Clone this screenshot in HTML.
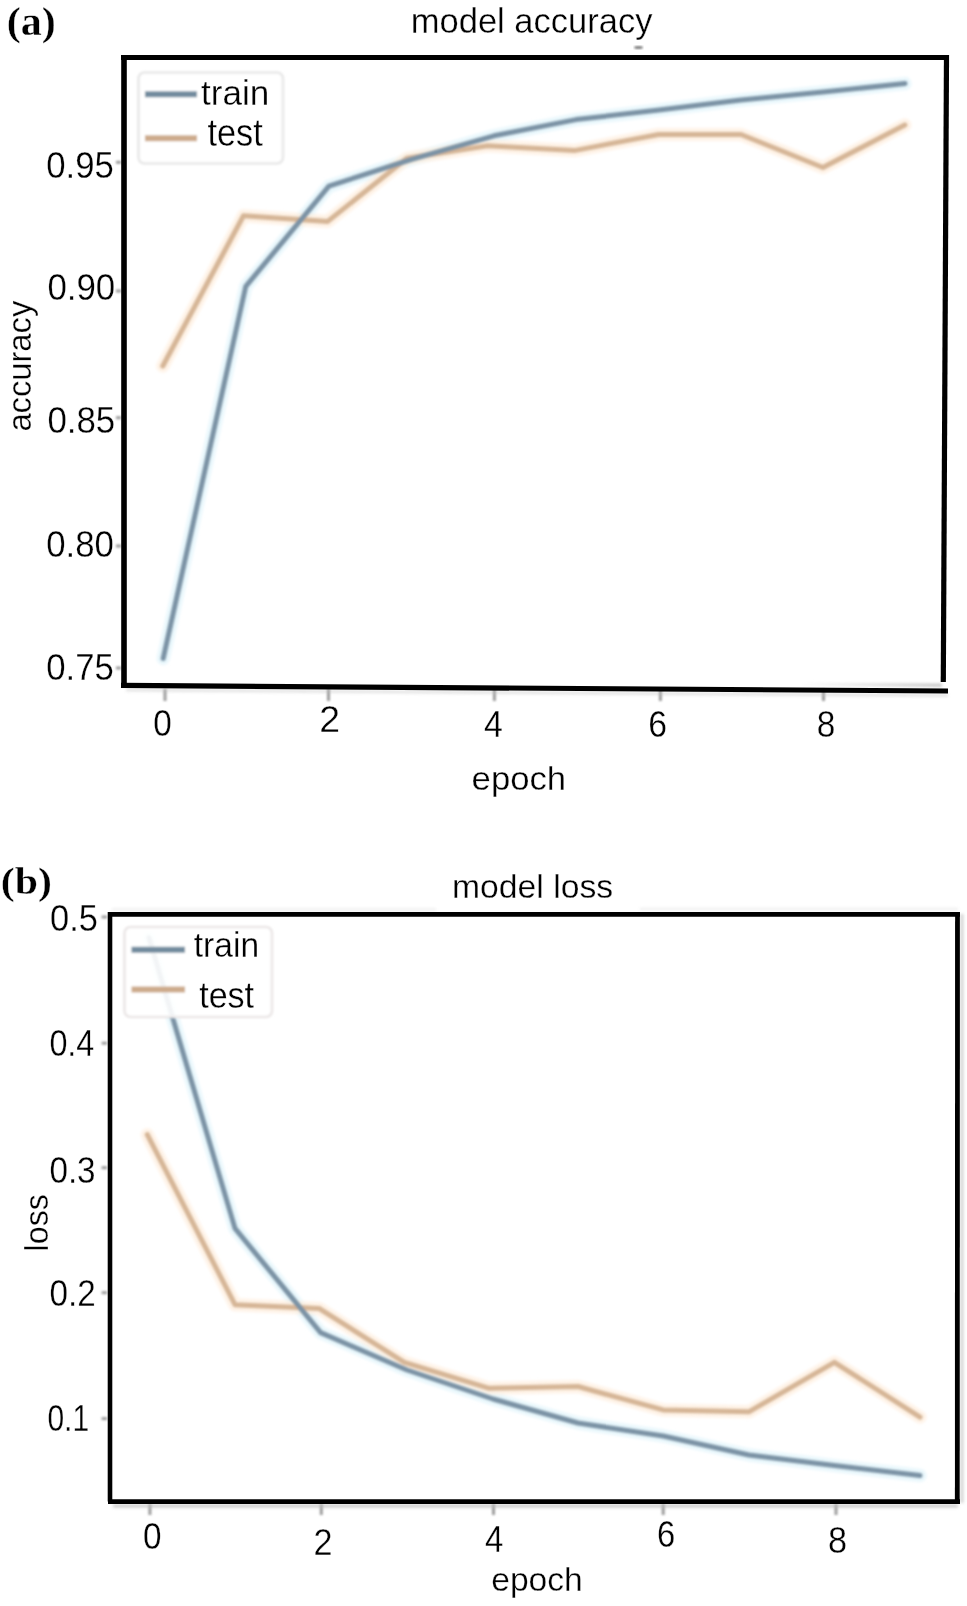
<!DOCTYPE html>
<html><head><meta charset="utf-8"><style>
html,body{margin:0;padding:0;background:#fff;}
svg{display:block;}
</style></head><body>
<svg width="967" height="1606" viewBox="0 0 967 1606">
<defs><filter id="bl" x="-10%" y="-10%" width="120%" height="120%"><feGaussianBlur stdDeviation="0.9"/></filter><filter id="bl2" x="-10%" y="-10%" width="120%" height="120%"><feGaussianBlur stdDeviation="1.8"/></filter><filter id="bl0" x="-10%" y="-10%" width="120%" height="120%"><feGaussianBlur stdDeviation="0.4"/></filter><linearGradient id="gshadow" x1="0" x2="1" y1="0" y2="0"><stop offset="0" stop-color="#fff"/><stop offset="1" stop-color="#b0b0b0"/></linearGradient></defs>
<rect width="967" height="1606" fill="#fff"/>
<g filter="url(#bl2)" fill="none" stroke-linejoin="round" stroke-linecap="round">
<polyline points="163.2,658.4 245.8,286.3 328.9,186.2 411.0,159.5 494.0,135.8 576.0,119.6 659.0,110.0 741.0,100.0 823.0,92.0 905.0,83.6" stroke="#e0f4fb" stroke-width="13" opacity="0.75"/>
<polyline points="162.8,366.0 243.5,215.7 327.7,221.4 406.9,158.3 487.5,145.8 574.3,150.6 658.7,134.5 741.0,134.5 822.9,167.5 904.8,125.0" stroke="#fdeedd" stroke-width="13" opacity="0.75"/>
<polyline points="149.0,937.7 235.0,1228.4 320.6,1332.6 407.0,1370.0 493.0,1399.0 578.0,1423.0 663.2,1436.0 749.0,1455.0 834.4,1465.6 920.0,1475.5" stroke="#e0f4fb" stroke-width="13" opacity="0.75"/>
<polyline points="147.3,1134.7 235.0,1304.7 319.0,1308.4 404.3,1362.4 489.2,1388.3 578.0,1386.5 663.2,1409.9 748.8,1411.8 834.4,1362.3 920.0,1417.1" stroke="#fdeedd" stroke-width="13" opacity="0.75"/>
</g>
<g filter="url(#bl)" fill="none" stroke-linejoin="round" stroke-linecap="round">
<polyline points="162.8,366.0 243.5,215.7 327.7,221.4 406.9,158.3 487.5,145.8 574.3,150.6 658.7,134.5 741.0,134.5 822.9,167.5 904.8,125.0" stroke="#d6b697" stroke-width="5"/>
<polyline points="163.2,658.4 245.8,286.3 328.9,186.2 411.0,159.5 494.0,135.8 576.0,119.6 659.0,110.0 741.0,100.0 823.0,92.0 905.0,83.6" stroke="#7b93a5" stroke-width="5"/>
<polyline points="147.3,1134.7 235.0,1304.7 319.0,1308.4 404.3,1362.4 489.2,1388.3 578.0,1386.5 663.2,1409.9 748.8,1411.8 834.4,1362.3 920.0,1417.1" stroke="#d6b697" stroke-width="5"/>
<polyline points="149.0,937.7 235.0,1228.4 320.6,1332.6 407.0,1370.0 493.0,1399.0 578.0,1423.0 663.2,1436.0 749.0,1455.0 834.4,1465.6 920.0,1475.5" stroke="#7b93a5" stroke-width="5"/>
</g>
<g filter="url(#bl)">
<rect x="138.5" y="72.5" width="144.5" height="91" rx="6" fill="#fff" fill-opacity="0.9" stroke="#e8e8e8" stroke-width="2.6"/>
<rect x="124.5" y="927" width="147.5" height="90" rx="6" fill="#fff" fill-opacity="0.9" stroke="#ebe7e7" stroke-width="2.6"/>
<line x1="145" y1="94.3" x2="197" y2="94.3" stroke="#728b9e" stroke-width="6"/>
<line x1="145" y1="138.2" x2="197" y2="138.2" stroke="#cdab8c" stroke-width="6"/>
<line x1="131.5" y1="949.7" x2="185" y2="949.7" stroke="#728b9e" stroke-width="6"/>
<line x1="131.5" y1="989.6" x2="185" y2="989.6" stroke="#cdab8c" stroke-width="6"/>
</g>
<g stroke="#858585" stroke-width="3" opacity="0.8" filter="url(#bl)">
<line x1="116" y1="162.3" x2="121" y2="162.3"/>
<line x1="116" y1="291" x2="121" y2="291"/>
<line x1="116" y1="417.7" x2="121" y2="417.7"/>
<line x1="116" y1="546" x2="121" y2="546"/>
<line x1="116" y1="668" x2="121" y2="668"/>
<line x1="165" y1="689" x2="165" y2="701"/>
<line x1="328.5" y1="689" x2="328.5" y2="701"/>
<line x1="494.4" y1="689" x2="494.4" y2="701"/>
<line x1="660.4" y1="689" x2="660.4" y2="701"/>
<line x1="823.5" y1="689" x2="823.5" y2="701"/>
<line x1="101.6" y1="917" x2="107" y2="917"/>
<line x1="101.6" y1="1043.2" x2="107" y2="1043.2"/>
<line x1="101.6" y1="1167.7" x2="107" y2="1167.7"/>
<line x1="101.6" y1="1292.7" x2="107" y2="1292.7"/>
<line x1="101.6" y1="1418.6" x2="107" y2="1418.6"/>
<line x1="149.9" y1="1504" x2="149.9" y2="1515"/>
<line x1="321.3" y1="1504" x2="321.3" y2="1515"/>
<line x1="493.5" y1="1504" x2="493.5" y2="1515"/>
<line x1="663.2" y1="1504" x2="663.2" y2="1515"/>
<line x1="836" y1="1504" x2="836" y2="1515"/>
</g>
<g stroke="#bdbdbd" fill="none" filter="url(#bl2)" opacity="0.8">
<line x1="113" y1="1506" x2="958" y2="1506" stroke-width="3"/>
<line x1="126" y1="690" x2="948" y2="695.5" stroke-width="2.5" opacity="0.6"/>
<line x1="800" y1="684.3" x2="942" y2="685.3" stroke="url(#gshadow)" stroke-width="3" opacity="1"/>
<line x1="962" y1="914" x2="962" y2="1503" stroke-width="2.5"/>
<line x1="112" y1="909.5" x2="436" y2="909.5" stroke-width="1.5" opacity="0.5"/>
<line x1="640" y1="909" x2="958" y2="909" stroke-width="1.5" opacity="0.5"/>
</g>
<ellipse cx="638.5" cy="47.5" rx="4.5" ry="1.3" fill="#666" filter="url(#bl)"/>
<line x1="121" y1="53" x2="949" y2="53" stroke="#d0d0d0" stroke-width="1.5" opacity="0.6" filter="url(#bl)"/>
<g stroke="#000" fill="none" stroke-linecap="butt" filter="url(#bl0)">
<line x1="121" y1="57.5" x2="949" y2="57.5" stroke-width="5.2"/>
<line x1="124" y1="55" x2="124" y2="688" stroke-width="5.6"/>
<line x1="946.5" y1="55" x2="943.3" y2="682" stroke-width="5.2"/>
<line x1="121" y1="685.4" x2="948" y2="691" stroke-width="5.2"/>
<line x1="108" y1="914.4" x2="960" y2="914.4" stroke-width="4.8"/>
<line x1="110" y1="912" x2="110" y2="1501.5" stroke-width="4.6"/>
<line x1="957.5" y1="912" x2="957.3" y2="1504" stroke-width="4.8"/>
<line x1="108" y1="1501.6" x2="960" y2="1501.6" stroke-width="4.8"/>
</g>
<g fill="#000">
<text x="6.80" y="35.40" font-family='"Liberation Serif", serif' font-weight="bold" font-size="40.85" textLength="49.03" lengthAdjust="spacingAndGlyphs" stroke="#fff" stroke-width="0.3">(a)</text>
<text x="410.80" y="32.60" font-family='"Liberation Sans", sans-serif' font-weight="normal" font-size="34.56" textLength="241.65" lengthAdjust="spacingAndGlyphs" stroke="#fff" stroke-width="0.3">model accuracy</text>
<text x="46.20" y="177.60" font-family='"Liberation Sans", sans-serif' font-weight="normal" font-size="36.94" textLength="67.63" lengthAdjust="spacingAndGlyphs" stroke="#fff" stroke-width="0.3">0.95</text>
<text x="47.40" y="300.00" font-family='"Liberation Sans", sans-serif' font-weight="normal" font-size="36.94" textLength="67.84" lengthAdjust="spacingAndGlyphs" stroke="#fff" stroke-width="0.3">0.90</text>
<text x="47.40" y="432.80" font-family='"Liberation Sans", sans-serif' font-weight="normal" font-size="36.94" textLength="67.84" lengthAdjust="spacingAndGlyphs" stroke="#fff" stroke-width="0.3">0.85</text>
<text x="46.20" y="556.60" font-family='"Liberation Sans", sans-serif' font-weight="normal" font-size="36.94" textLength="67.63" lengthAdjust="spacingAndGlyphs" stroke="#fff" stroke-width="0.3">0.80</text>
<text x="46.20" y="680.40" font-family='"Liberation Sans", sans-serif' font-weight="normal" font-size="36.94" textLength="67.63" lengthAdjust="spacingAndGlyphs" stroke="#fff" stroke-width="0.3">0.75</text>
<text x="153.20" y="736.20" font-family='"Liberation Sans", sans-serif' font-weight="normal" font-size="36.94" textLength="18.52" lengthAdjust="spacingAndGlyphs" stroke="#fff" stroke-width="0.3">0</text>
<text x="319.20" y="732.40" font-family='"Liberation Sans", sans-serif' font-weight="normal" font-size="36.94" textLength="20.80" lengthAdjust="spacingAndGlyphs" stroke="#fff" stroke-width="0.3">2</text>
<text x="484.00" y="737.40" font-family='"Liberation Sans", sans-serif' font-weight="normal" font-size="36.94" textLength="18.84" lengthAdjust="spacingAndGlyphs" stroke="#fff" stroke-width="0.3">4</text>
<text x="648.20" y="736.60" font-family='"Liberation Sans", sans-serif' font-weight="normal" font-size="36.94" textLength="18.77" lengthAdjust="spacingAndGlyphs" stroke="#fff" stroke-width="0.3">6</text>
<text x="816.80" y="737.40" font-family='"Liberation Sans", sans-serif' font-weight="normal" font-size="36.94" textLength="18.59" lengthAdjust="spacingAndGlyphs" stroke="#fff" stroke-width="0.3">8</text>
<text x="471.60" y="789.50" font-family='"Liberation Sans", sans-serif' font-weight="normal" font-size="34.00" textLength="94.51" lengthAdjust="spacingAndGlyphs" stroke="#fff" stroke-width="0.3">epoch</text>
<text transform="translate(31.40,431.60) rotate(-90)" x="0" y="0" font-family='"Liberation Sans", sans-serif' font-weight="normal" font-size="32.43" textLength="130.85" lengthAdjust="spacingAndGlyphs" stroke="#fff" stroke-width="0.3">accuracy</text>
<text x="201.00" y="104.60" font-family='"Liberation Sans", sans-serif' font-weight="normal" font-size="34.32" textLength="68.27" lengthAdjust="spacingAndGlyphs" stroke="#fff" stroke-width="0.3">train</text>
<text x="207.40" y="146.00" font-family='"Liberation Sans", sans-serif' font-weight="normal" font-size="38.40" textLength="55.29" lengthAdjust="spacingAndGlyphs" stroke="#fff" stroke-width="0.3">test</text>
<text x="0.80" y="894.40" font-family='"Liberation Serif", serif' font-weight="bold" font-size="38.71" textLength="51.08" lengthAdjust="spacingAndGlyphs" stroke="#fff" stroke-width="0.3">(b)</text>
<text x="452.00" y="897.60" font-family='"Liberation Sans", sans-serif' font-weight="normal" font-size="34.05" textLength="161.17" lengthAdjust="spacingAndGlyphs" stroke="#fff" stroke-width="0.3">model loss</text>
<text x="50.00" y="930.60" font-family='"Liberation Sans", sans-serif' font-weight="normal" font-size="36.40" textLength="47.94" lengthAdjust="spacingAndGlyphs" stroke="#fff" stroke-width="0.3">0.5</text>
<text x="49.40" y="1056.00" font-family='"Liberation Sans", sans-serif' font-weight="normal" font-size="36.40" textLength="44.95" lengthAdjust="spacingAndGlyphs" stroke="#fff" stroke-width="0.3">0.4</text>
<text x="49.40" y="1183.00" font-family='"Liberation Sans", sans-serif' font-weight="normal" font-size="36.40" textLength="46.22" lengthAdjust="spacingAndGlyphs" stroke="#fff" stroke-width="0.3">0.3</text>
<text x="49.40" y="1306.00" font-family='"Liberation Sans", sans-serif' font-weight="normal" font-size="36.40" textLength="46.25" lengthAdjust="spacingAndGlyphs" stroke="#fff" stroke-width="0.3">0.2</text>
<text x="47.40" y="1430.60" font-family='"Liberation Sans", sans-serif' font-weight="normal" font-size="36.40" textLength="41.65" lengthAdjust="spacingAndGlyphs" stroke="#fff" stroke-width="0.3">0.1</text>
<text x="143.00" y="1549.40" font-family='"Liberation Sans", sans-serif' font-weight="normal" font-size="36.40" textLength="18.52" lengthAdjust="spacingAndGlyphs" stroke="#fff" stroke-width="0.3">0</text>
<text x="313.60" y="1554.80" font-family='"Liberation Sans", sans-serif' font-weight="normal" font-size="36.40" textLength="19.03" lengthAdjust="spacingAndGlyphs" stroke="#fff" stroke-width="0.3">2</text>
<text x="485.00" y="1552.20" font-family='"Liberation Sans", sans-serif' font-weight="normal" font-size="36.40" textLength="18.33" lengthAdjust="spacingAndGlyphs" stroke="#fff" stroke-width="0.3">4</text>
<text x="657.00" y="1547.40" font-family='"Liberation Sans", sans-serif' font-weight="normal" font-size="36.40" textLength="18.25" lengthAdjust="spacingAndGlyphs" stroke="#fff" stroke-width="0.3">6</text>
<text x="828.00" y="1552.60" font-family='"Liberation Sans", sans-serif' font-weight="normal" font-size="36.40" textLength="19.07" lengthAdjust="spacingAndGlyphs" stroke="#fff" stroke-width="0.3">8</text>
<text x="491.20" y="1590.60" font-family='"Liberation Sans", sans-serif' font-weight="normal" font-size="32.95" textLength="91.58" lengthAdjust="spacingAndGlyphs" stroke="#fff" stroke-width="0.3">epoch</text>
<text transform="translate(48.40,1251.40) rotate(-90)" x="0" y="0" font-family='"Liberation Sans", sans-serif' font-weight="normal" font-size="32.45" textLength="57.19" lengthAdjust="spacingAndGlyphs" stroke="#fff" stroke-width="0.3">loss</text>
<text x="193.80" y="957.40" font-family='"Liberation Sans", sans-serif' font-weight="normal" font-size="34.82" textLength="65.31" lengthAdjust="spacingAndGlyphs" stroke="#fff" stroke-width="0.3">train</text>
<text x="199.20" y="1007.60" font-family='"Liberation Sans", sans-serif' font-weight="normal" font-size="37.73" textLength="54.86" lengthAdjust="spacingAndGlyphs" stroke="#fff" stroke-width="0.3">test</text>
</g>
</svg>
</body></html>
